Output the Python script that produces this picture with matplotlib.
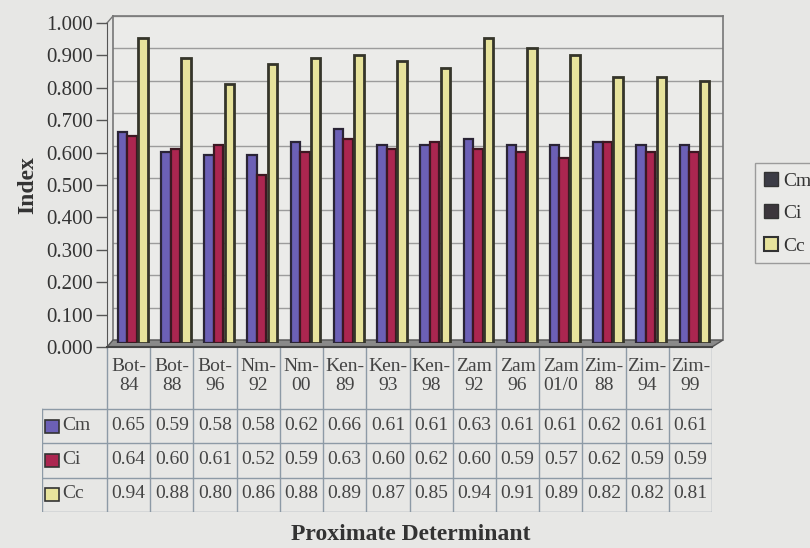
import numpy as np
import matplotlib
matplotlib.use('Agg')
import matplotlib.pyplot as plt
from matplotlib.patches import Rectangle, Patch, Polygon

plt.rcParams['font.family'] = ['Liberation Serif', 'DejaVu Serif']

categories = ['Bot-\n84', 'Bot-\n88', 'Bot-\n96', 'Nm-\n92', 'Nm-\n00', 'Ken-\n89', 'Ken-\n93',
              'Ken-\n98', 'Zam\n92', 'Zam\n96', 'Zam\n01/0', 'Zim-\n88', 'Zim-\n94', 'Zim-\n99']
cm = [0.65, 0.59, 0.58, 0.58, 0.62, 0.66, 0.61, 0.61, 0.63, 0.61, 0.61, 0.62, 0.61, 0.61]
ci = [0.64, 0.60, 0.61, 0.52, 0.59, 0.63, 0.60, 0.62, 0.60, 0.59, 0.57, 0.62, 0.59, 0.59]
cc = [0.94, 0.88, 0.80, 0.86, 0.88, 0.89, 0.87, 0.85, 0.94, 0.91, 0.89, 0.82, 0.82, 0.81]
series = ['Cm', 'Ci', 'Cc']
colors = ['#6c60b6', '#ab2650', '#e7e39c']
yticks = np.arange(0, 1.01, 0.1)

W, H = 810, 548
bg = '#e7e7e5'
wall_c = '#ebebe9'
grid_c = '#9c9c9c'
frame_c = '#777777'
line_c = '#8d9aa6'
text_c = '#333333'

fig = plt.figure(figsize=(W / 100, H / 100), dpi=100, facecolor=bg)

# pixel box -> figure fraction
def box(x0, y0, x1, y1):
    return [x0 / W, 1 - y1 / H, (x1 - x0) / W, (y1 - y0) / H]

def fpt(px, py):
    return (px / W, 1 - py / H)

x = np.arange(len(categories))
ncat = len(categories)

# back wall with the gridlines
wall = fig.add_axes(box(113, 16, 723, 340), zorder=0)
wall.set_facecolor(wall_c)
wall.set_xlim(0, 1)
wall.set_ylim(0, 1.0)
wall.set_yticks(yticks)
wall.set_xticks([])
wall.tick_params(axis='y', length=0, labelleft=False)
wall.yaxis.grid(True, color=grid_c, lw=1)
for s in wall.spines.values():
    s.set_color(frame_c)
    s.set_linewidth(1.2)
wall.spines['bottom'].set_visible(False)

# floor of the 3-d frame
fig.add_artist(Polygon([fpt(107, 347), fpt(712, 347), fpt(723, 340), fpt(113, 340)],
                       closed=True, facecolor='#8a8a8a', edgecolor='#555555', lw=1, zorder=1))
fig.add_artist(plt.Line2D([107 / W, 113 / W], [1 - 23 / H, 1 - 16 / H], color=frame_c, lw=1))

# bars
axb = fig.add_axes(box(107, 19, 712, 343), zorder=2)
axb.patch.set_alpha(0)
axb.set_xlim(-0.5, ncat - 0.5)
axb.set_ylim(0, 1.0)
axb.axis('off')
bw = 0.22
offs = [-0.14, 0.08, 0.33]
edges = ['#2a2436', '#3c1822', '#35352a']
lws = [1.6, 1.6, 2.0]
for vals, off, col, ec, lw in zip([cm, ci, cc], offs, colors, edges, lws):
    axb.bar(x + off, vals, width=bw, color=col, edgecolor=ec, linewidth=lw)

# front value axis
ax = fig.add_axes(box(107, 23, 712, 347), zorder=3)
ax.patch.set_alpha(0)
ax.set_xlim(-0.5, ncat - 0.5)
ax.set_ylim(0, 1.0)
ax.set_yticks(yticks)
ax.set_yticklabels(['%.3f' % v for v in yticks], fontsize=15, color=text_c)
ax.set_xticks([])
ax.tick_params(axis='y', direction='out', length=8, width=1, color='#555555', pad=2)
for s in ['top', 'right']:
    ax.spines[s].set_visible(False)
ax.spines['left'].set_color('#555555')
ax.spines['bottom'].set_color('#444444')
ax.spines['bottom'].set_linewidth(1.5)
ax.set_ylabel('Index', fontsize=17, fontweight='bold', color=text_c, labelpad=6)

# data table under the bars
tx0 = -0.5 - (107 - 42) / 43.2
tab = fig.add_axes(box(42, 347, 712, 512))
tab.set_xlim(tx0, ncat - 0.5)
tab.set_ylim(165, 0)
tab.axis('off')
tab.patch.set_alpha(0)

for i in range(ncat + 1):
    tab.plot([i - 0.5, i - 0.5], [0, 165], color=line_c, lw=1)
tab.plot([tx0, tx0], [62, 165], color=line_c, lw=1)
for yy in [62, 96, 131, 165]:
    tab.plot([tx0, ncat - 0.5], [yy, yy], color=line_c, lw=1)

for i, lab in enumerate(categories):
    tab.text(i, 29, lab, ha='center', va='center', fontsize=14, color='#444444', linespacing=1.2)

row_y = [79, 113, 147]
for vals, yy, name, col in zip([cm, ci, cc], row_y, series, colors):
    tab.add_patch(Rectangle((tx0 + 3 / 43.2, yy - 6.5), 14 / 43.2, 13, facecolor=col,
                            edgecolor='#333333', lw=1.2))
    tab.text(tx0 + 20 / 43.2, yy, name, ha='left', va='center', fontsize=14, color='#444444')
    for i, v in enumerate(vals):
        tab.text(i, yy, '%.2f' % v, ha='center', va='center', fontsize=14, color='#444444')

fig.text(411 / W, 1 - 535 / H, 'Proximate Determinant', ha='center', va='center',
         fontsize=17, fontweight='bold', color=text_c)

# legend at right
handles = [Patch(facecolor='#3c3c46', edgecolor='#333333'),
           Patch(facecolor='#3c363c', edgecolor='#333333'),
           Patch(facecolor=colors[2], edgecolor='#333333', lw=1.5)]
leg = fig.legend(handles, series, loc='upper left', bbox_to_anchor=(755 / W, 1 - 163 / H),
                 fontsize=14, frameon=True, fancybox=False, handlelength=0.75, handleheight=0.75,
                 handletextpad=0.25, labelspacing=0.75, borderpad=0.45, borderaxespad=0)
leg.get_frame().set_edgecolor('#888888')
leg.get_frame().set_facecolor('#ebebe9')
leg.get_frame().set_linewidth(1)
for t in leg.get_texts():
    t.set_color(text_c)

fig.savefig('out.png', dpi=100, facecolor=bg)
